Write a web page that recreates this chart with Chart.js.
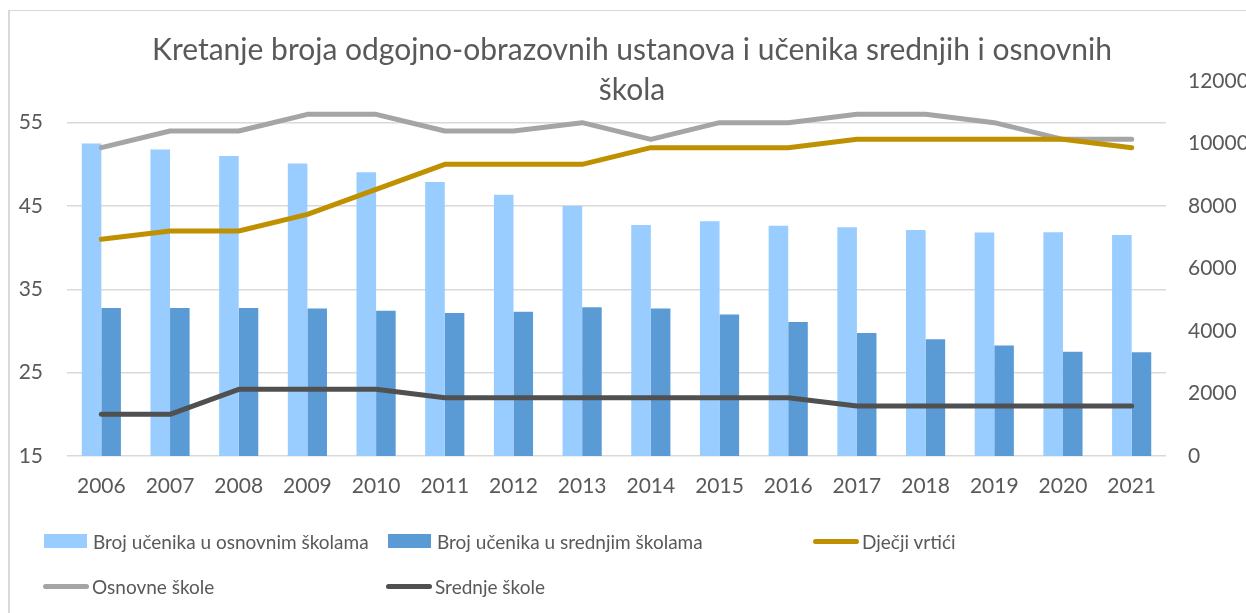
<!DOCTYPE html>
<html>
<head>
<meta charset="utf-8">
<script src="https://cdn.jsdelivr.net/npm/chart.js@4.4.1/dist/chart.umd.min.js"></script>
<style>
  html, body { margin: 0; padding: 0; overflow: hidden; background: #fff; width: 1246px; height: 613px; }
  #frame { position: absolute; left: 8px; top: 10px; width: 1400px; height: 700px;
           border-top: 1px solid #d9d9d9; border-left: 2px solid #d9d9d9; }
  #c { position: absolute; left: 0; top: 0; }
  #legend { position: absolute; left: 0; top: 0; font-family: Lato, sans-serif; font-size: 19px; color: #595959; }
  .item { position: absolute; display: flex; align-items: center; white-space: nowrap; height: 30px; }
  .box { width: 43px; height: 14px; margin-right: 6px; }
  .line { width: 46px; height: 5px; border-radius: 3px; margin-right: 3px; }
</style>
</head>
<body>
<div id="frame"></div>
<canvas id="c" width="1264" height="613"></canvas>
<div id="legend"></div>
<script>
// data
const years = ['2006', '2007', '2008', '2009', '2010', '2011', '2012', '2013',
               '2014', '2015', '2016', '2017', '2018', '2019', '2020', '2021'];
const uceniciOsnovne = [10000, 9810, 9600, 9360, 9080, 8770, 8360, 8000, 7390, 7510, 7370, 7320, 7230, 7150, 7160, 7070];
const uceniciSrednje = [4740, 4740, 4740, 4720, 4650, 4580, 4620, 4760, 4720, 4530, 4290, 3940, 3740, 3540, 3340, 3320];
const vrtici = [41, 42, 42, 44, 47, 50, 50, 50, 52, 52, 52, 53, 53, 53, 53, 52];
const osnovneSkole = [52, 54, 54, 56, 56, 54, 54, 55, 53, 55, 55, 56, 56, 55, 53, 53];
const srednjeSkole = [20, 20, 23, 23, 23, 22, 22, 22, 22, 22, 22, 21, 21, 21, 21, 21];
const leftTicks = [15, 25, 35, 45, 55];
const rightTicks = [0, 2000, 4000, 6000, 8000, 10000, 12000];

const txt = '#595959';
const font = 'Lato';

function lineSet(label, data, color) {
    return {
        type: 'line', label: label, data: data, yAxisID: 'y',
        borderColor: color, backgroundColor: color, borderWidth: 5,
        pointRadius: 0, tension: 0, borderCapStyle: 'round', borderJoinStyle: 'round', order: 1
    };
}

const chart = new Chart(document.getElementById('c'), {
    data: {
        labels: years,
        datasets: [
            { type: 'bar', label: 'Broj učenika u osnovnim školama', data: uceniciOsnovne, yAxisID: 'y1',
              backgroundColor: '#99CCFF', order: 2, categoryPercentage: 0.57, barPercentage: 1.0 },
            { type: 'bar', label: 'Broj učenika u srednjim školama', data: uceniciSrednje, yAxisID: 'y1',
              backgroundColor: '#5B9BD5', order: 2, categoryPercentage: 0.57, barPercentage: 1.0 },
            lineSet('Dječji vrtići', vrtici, '#BF9000'),
            lineSet('Osnovne škole', osnovneSkole, '#A5A5A5'),
            lineSet('Srednje škole', srednjeSkole, '#505050')
        ]
    },
    options: {
        responsive: false,
        animation: false,
        layout: { padding: 0 },
        plugins: {
            legend: { display: false },
            tooltip: { enabled: false },
            title: {
                display: true,
                text: ['Kretanje broja odgojno-obrazovnih ustanova i učenika srednjih i osnovnih', 'škola'],
                color: txt,
                font: { family: font, size: 30, weight: 'normal', lineHeight: 40 / 30 },
                padding: { top: 30, bottom: -29 }
            }
        },
        scales: {
            x: {
                grid: { display: false, drawTicks: false },
                border: { display: false },
                ticks: { color: txt, font: { family: font, size: 21 }, padding: 18 },
                afterFit: s => { s.height = 613 - 456; }
            },
            y: {
                position: 'left', min: 15, max: 60,
                afterBuildTicks: s => { s.ticks = leftTicks.map(v => ({ value: v })); },
                grid: { color: '#d9d9d9', lineWidth: 1.5, drawTicks: false },
                border: { display: false },
                ticks: { color: txt, font: { family: font, size: 21 }, padding: 24, callback: v => String(v) },
                afterFit: s => { s.width = 67; }
            },
            y1: {
                position: 'right', min: 0, max: 12000,
                afterBuildTicks: s => { s.ticks = rightTicks.map(v => ({ value: v })); },
                grid: { display: false, drawTicks: false },
                border: { display: false },
                ticks: { color: txt, font: { family: font, size: 21 }, padding: 22, callback: v => String(v) },
                afterFit: s => { s.width = 1264 - 1166; }
            }
        }
    }
});

// legend laid out like the Excel one: 3 columns, 2 rows
const spots = [[44, 526], [388, 526], [813, 526], [43, 571], [386, 571]];
const legend = document.getElementById('legend');
chart.data.datasets.forEach((ds, i) => {
    const item = document.createElement('div');
    item.className = 'item';
    item.style.left = spots[i][0] + 'px';
    item.style.top = spots[i][1] + 'px';
    const mark = document.createElement('span');
    mark.className = ds.type === 'bar' ? 'box' : 'line';
    mark.style.background = ds.type === 'bar' ? ds.backgroundColor : ds.borderColor;
    const label = document.createElement('span');
    label.textContent = ds.label;
    item.appendChild(mark);
    item.appendChild(label);
    legend.appendChild(item);
});
</script>
</body>
</html>
